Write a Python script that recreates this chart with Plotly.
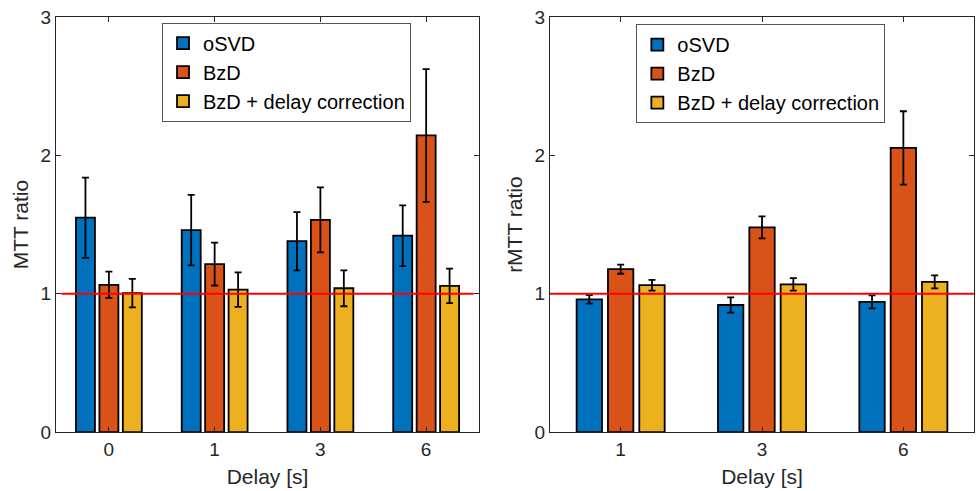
import plotly.graph_objects as go

# Delay categories for each panel
delays_mtt = ["0", "1", "3", "6"]
delays_rmtt = ["1", "3", "6"]

methods = ["oSVD", "BzD", "BzD + delay correction"]
colors = ["#0072BD", "#D95319", "#EDB120"]

# MTT ratio (mean and error) per method
mtt_osvd = [1.55, 1.46, 1.38, 1.42]
mtt_osvd_err = [0.29, 0.255, 0.21, 0.22]
mtt_bzd = [1.065, 1.215, 1.535, 2.145]
mtt_bzd_err = [0.095, 0.155, 0.235, 0.48]
mtt_bzd_dc = [1.005, 1.03, 1.04, 1.057]
mtt_bzd_dc_err = [0.103, 0.125, 0.13, 0.125]

# Relative MTT ratio (mean and error) per method
rmtt_osvd = [0.96, 0.919, 0.941]
rmtt_osvd_err = [0.031, 0.055, 0.047]
rmtt_bzd = [1.178, 1.48, 2.055]
rmtt_bzd_err = [0.033, 0.08, 0.265]
rmtt_bzd_dc = [1.062, 1.068, 1.086]
rmtt_bzd_dc_err = [0.039, 0.045, 0.047]

y_ticks = [0, 1, 2, 3]
reference_level = 1

FONT = "Liberation Sans, Arial, Helvetica, sans-serif"
AXIS_COLOR = "#262626"

fig = go.Figure()

left_series = [(mtt_osvd, mtt_osvd_err), (mtt_bzd, mtt_bzd_err), (mtt_bzd_dc, mtt_bzd_dc_err)]
right_series = [(rmtt_osvd, rmtt_osvd_err), (rmtt_bzd, rmtt_bzd_err), (rmtt_bzd_dc, rmtt_bzd_dc_err)]

for name, color, (vals, errs) in zip(methods, colors, left_series):
    fig.add_trace(go.Bar(
        x=delays_mtt, y=vals, name=name, xaxis="x", yaxis="y",
        marker=dict(color=color, line=dict(color="black", width=1.8)),
        error_y=dict(type="data", array=errs, color="black", thickness=1.8, width=3.5),
        legend="legend", offsetgroup=name,
    ))

for name, color, (vals, errs) in zip(methods, colors, right_series):
    fig.add_trace(go.Bar(
        x=delays_rmtt, y=vals, name=name, xaxis="x2", yaxis="y2",
        marker=dict(color=color, line=dict(color="black", width=1.8)),
        error_y=dict(type="data", array=errs, color="black", thickness=1.8, width=3.5),
        legend="legend2", offsetgroup=name,
    ))

axis_common = dict(
    showline=True, mirror="ticks", linecolor=AXIS_COLOR, linewidth=1.2,
    ticks="inside", ticklen=5, tickwidth=1.2, tickcolor=AXIS_COLOR,
    showgrid=False, zeroline=False, automargin=False,
    tickfont=dict(family=FONT, size=19, color=AXIS_COLOR),
)
title_font = dict(family=FONT, size=21, color=AXIS_COLOR)

legend_common = dict(
    xanchor="left", yanchor="top",
    bgcolor="white", bordercolor="#555555", borderwidth=1,
    font=dict(family=FONT, size=20, color="black"),
    tracegroupgap=0, itemwidth=30,
)

fig.update_layout(
    width=976, height=491,
    margin=dict(l=0, r=0, t=0, b=0),
    paper_bgcolor="white", plot_bgcolor="white",
    barmode="group", bargap=0.335, bargroupgap=0.19,
    font=dict(family=FONT, color=AXIS_COLOR),
    xaxis=dict(domain=[0.0574, 0.4908], type="category", range=[-0.5, 3.5],
               title=dict(text="Delay [s]", font=title_font, standoff=10), anchor="y",
               **axis_common),
    yaxis=dict(domain=[0.12, 0.965], range=[0, 3], tickvals=y_ticks,
               title=dict(text="MTT ratio", font=title_font, standoff=6), anchor="x",
               **axis_common),
    xaxis2=dict(domain=[0.5635, 0.998], type="category", range=[-0.5, 2.5],
                title=dict(text="Delay [s]", font=title_font, standoff=10), anchor="y2",
                **axis_common),
    yaxis2=dict(domain=[0.12, 0.965], range=[0, 3], tickvals=y_ticks,
                title=dict(text="rMTT ratio", font=title_font, standoff=6), anchor="x2",
                **axis_common),
    legend=dict(x=0.166, y=0.954, **legend_common),
    legend2=dict(x=0.652, y=0.951, **legend_common),
)

# Reference line at a ratio of 1
fig.add_shape(type="line", xref="x", yref="y", x0=-0.45, x1=3.45,
              y0=reference_level, y1=reference_level,
              line=dict(color="#FF0000", width=2))
fig.add_shape(type="line", xref="x2 domain", yref="y2", x0=0, x1=1,
              y0=reference_level, y1=reference_level,
              line=dict(color="#FF0000", width=2))

fig.write_html("out.html")
